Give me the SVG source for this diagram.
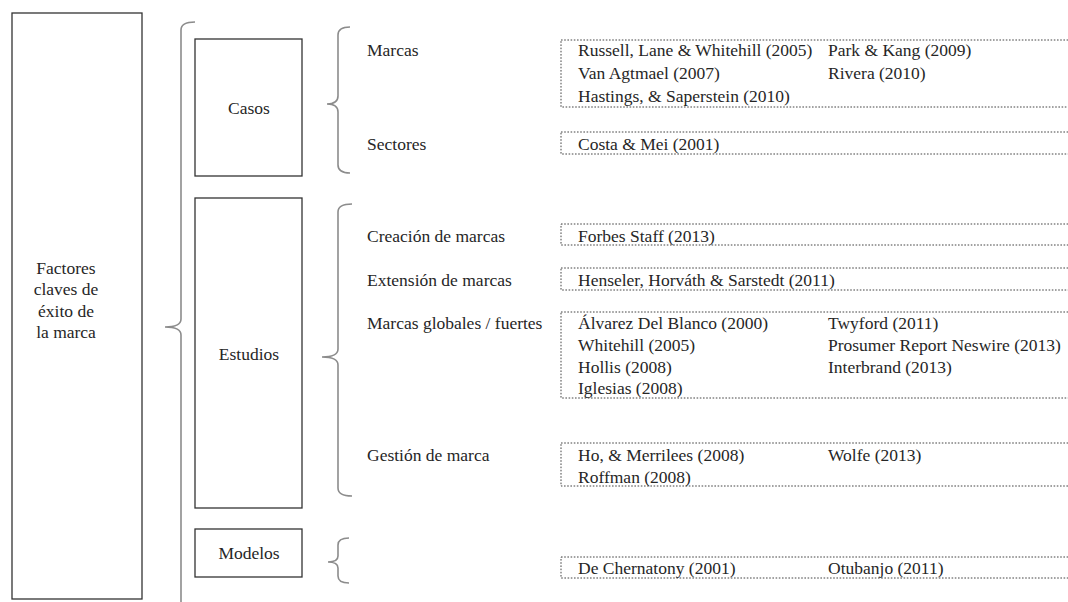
<svg xmlns="http://www.w3.org/2000/svg" width="1068" height="602" viewBox="0 0 1068 602" font-family="'Liberation Serif', 'Times New Roman', 'DejaVu Serif', serif">
<style>
.box{fill:#fff;stroke:#333;stroke-width:1.3}
.ref{fill:none;stroke:#444;stroke-width:1;stroke-dasharray:1.6 1.6}
.br{fill:none;stroke:#8c8c8c;stroke-width:1.6}
text{font-family:'Liberation Serif','Times New Roman','DejaVu Serif',serif;font-size:17.5px;fill:#262626}
.c{text-anchor:middle}
</style>
<rect width="1068" height="602" fill="#fff"/>
<g id="root">
<rect class="box" x="12" y="13" width="130" height="586"/>
<text class="c" x="66" y="274">Factores</text>
<text class="c" x="66" y="295">claves de</text>
<text class="c" x="66" y="317">éxito de</text>
<text class="c" x="66" y="338">la marca</text>
</g>
<g id="casos">
<rect class="box" x="195" y="39" width="107" height="137"/>
<text class="c" x="249" y="114">Casos</text>
</g>
<g id="estudios">
<rect class="box" x="195" y="198" width="107" height="310"/>
<text class="c" x="249" y="360">Estudios</text>
</g>
<g id="modelos">
<rect class="box" x="195" y="529" width="107" height="48"/>
<text class="c" x="249" y="559">Modelos</text>
</g>
<g id="connectors">
<path class="br" d="M195,22 Q181,22 181,30 L181,319 Q181,327 165,327 Q181,327 181,335 L181,602"/>
<path class="br" d="M350,27 Q338,27 338,35 L338,96 Q338,104 327,104 Q338,104 338,112 L338,165 Q338,173 350,173"/>
<path class="br" d="M352,204 Q338,204 338,212 L338,349 Q338,357 322,357 Q338,357 338,365 L338,488 Q338,496 352,496"/>
<path class="br" d="M349,538 Q338,538 338,545 L338,556 Q338,562 328,562 Q338,562 338,568 L338,576 Q338,583 349,583"/>
</g>
<g id="marcas">
<text x="367" y="56">Marcas</text>
<rect class="ref" x="561" y="40" width="520" height="67"/>
<text x="578" y="56">Russell, Lane &amp; Whitehill (2005)</text>
<text x="578" y="79">Van Agtmael (2007)</text>
<text x="578" y="102">Hastings, &amp; Saperstein (2010)</text>
<text x="828" y="56">Park &amp; Kang (2009)</text>
<text x="828" y="79">Rivera (2010)</text>
</g>
<g id="sectores">
<text x="367" y="150">Sectores</text>
<rect class="ref" x="561" y="132" width="520" height="22"/>
<text x="578" y="150">Costa &amp; Mei (2001)</text>
</g>
<g id="creacion">
<text x="367" y="242">Creación de marcas</text>
<rect class="ref" x="561" y="224" width="520" height="21"/>
<text x="578" y="242">Forbes Staff (2013)</text>
</g>
<g id="extension">
<text x="367" y="286">Extensión de marcas</text>
<rect class="ref" x="561" y="268" width="520" height="22"/>
<text x="578" y="286">Henseler, Horváth &amp; Sarstedt (2011)</text>
</g>
<g id="globales">
<text x="367" y="329">Marcas globales / fuertes</text>
<rect class="ref" x="561" y="312" width="520" height="86"/>
<text x="578" y="329">Álvarez Del Blanco (2000)</text>
<text x="578" y="351">Whitehill (2005)</text>
<text x="578" y="373">Hollis (2008)</text>
<text x="578" y="394">Iglesias (2008)</text>
<text x="828" y="329">Twyford (2011)</text>
<text x="828" y="351">Prosumer Report Neswire (2013)</text>
<text x="828" y="373">Interbrand (2013)</text>
</g>
<g id="gestion">
<text x="367" y="461">Gestión de marca</text>
<rect class="ref" x="561" y="443" width="520" height="43"/>
<text x="578" y="461">Ho, &amp; Merrilees (2008)</text>
<text x="578" y="483">Roffman (2008)</text>
<text x="828" y="461">Wolfe (2013)</text>
</g>
<g id="modelos-refs">
<rect class="ref" x="561" y="557" width="520" height="21"/>
<text x="578" y="574">De Chernatony (2001)</text>
<text x="828" y="574">Otubanjo (2011)</text>
</g>
</svg>
